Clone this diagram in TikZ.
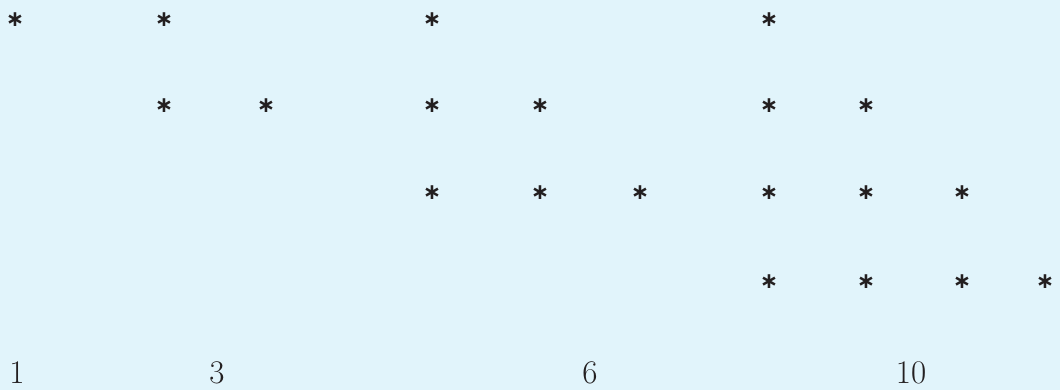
\documentclass[tikz,border=0pt]{standalone}
\usepackage{fontspec}
\usepackage{tikz}
\usetikzlibrary{positioning}
\newfontfamily\starfont{DejaVu Sans}
\definecolor{bgblue}{HTML}{E1F4FB}
\definecolor{starink}{HTML}{231F20}

\begin{document}
\begin{tikzpicture}[
  x=1pt, y=-1pt,
  asterisk/.style={inner sep=0pt, text=starink,
    font=\starfont\bfseries\fontsize{22}{22}\selectfont},
  count/.style={inner sep=0pt, text=starink,
    font=\fontsize{33}{33}\selectfont},
  ]
  % Background and fixed frame.
  \fill[bgblue] (0,0) rectangle (1060,390);
  \useasboundingbox (0,0) rectangle (1060,390);

  % One.
  \node[asterisk] (one-1-1) at (15,20) {∗};

  % Three.
  \node[asterisk] (three-1-1) at (164,20) {∗};
  \foreach \x [count=\c] in {164,266}
    \node[asterisk] (three-2-\c) at (\x,106) {∗};

  % Six.
  \node[asterisk] (six-1-1) at (432,20) {∗};
  \foreach \x [count=\c] in {432,540}
    \node[asterisk] (six-2-\c) at (\x,106) {∗};
  \foreach \x [count=\c] in {432,540,640}
    \node[asterisk] (six-3-\c) at (\x,193) {∗};

  % Ten.
  \node[asterisk] (ten-1-1) at (769,20) {∗};
  \foreach \x [count=\c] in {769,866}
    \node[asterisk] (ten-2-\c) at (\x,106) {∗};
  \foreach \x [count=\c] in {769,866,962}
    \node[asterisk] (ten-3-\c) at (\x,193) {∗};
  \foreach \x [count=\c] in {769,866,962,1045}
    \node[asterisk] (ten-4-\c) at (\x,282) {∗};

  % Counts.
  \node[count] (n1) at (17,373) {1};
  \node[count] (n3) at (217,373) {3};
  \node[count] (n6) at (590,373) {6};
  \node[count] (n10) at (911,373) {10};
\end{tikzpicture}
\end{document}
